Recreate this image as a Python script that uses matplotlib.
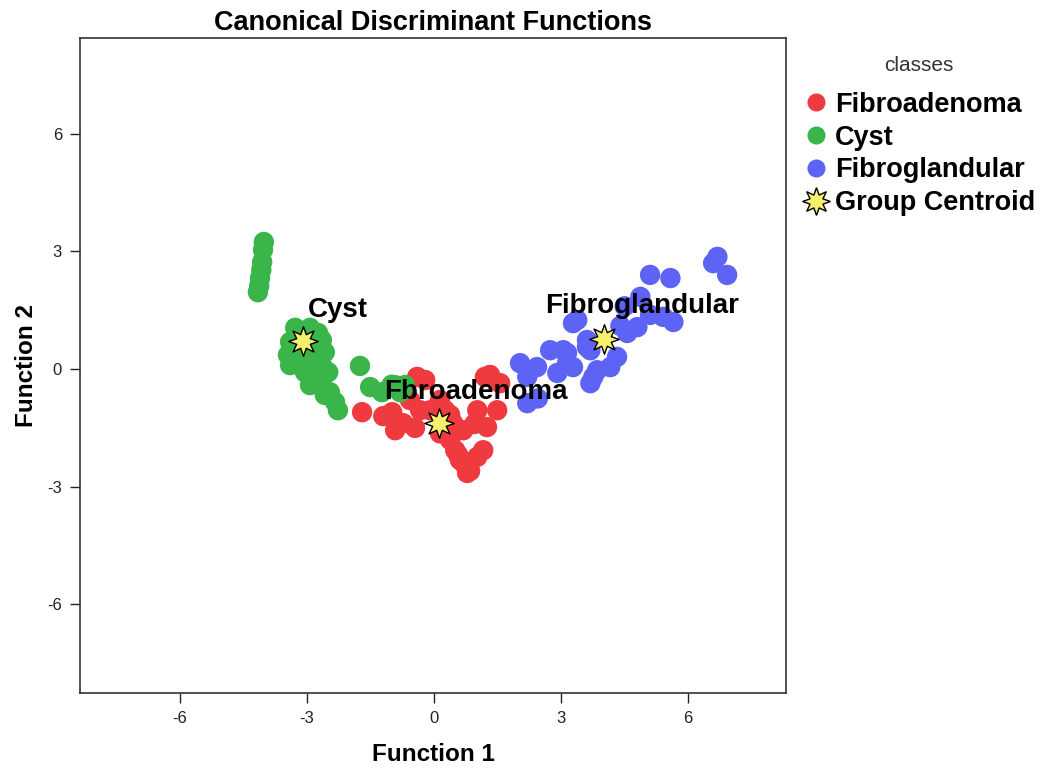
import matplotlib
matplotlib.use("Agg")
from matplotlib import pyplot as plt
from matplotlib.lines import Line2D

plt.rcParams['font.family'] = ['Liberation Sans', 'DejaVu Sans']
plt.rcParams['axes.unicode_minus'] = False

# discriminant scores per class (function 1, function 2)
fibroadenoma_x = [-1.70, -0.99, -0.92, -0.40, -0.33, -0.73, 0.14, -0.21, -0.57, -0.09, 0.14,
                  0.26, 0.38, 0.45, 0.50, 0.61, 0.69, 0.73, 0.78, 0.85, 0.57, 1.02, 1.49,
                  1.25, 1.16, 1.02, 1.32, 1.56, 1.20, 0.38, -1.20, -0.45, 0.95]
fibroadenoma_y = [-1.10, -1.10, -1.56, -0.20, -1.05, -1.38, -1.64, -0.28, -0.79, -1.05, -0.79,
                  -1.05, -1.81, -1.38, -2.07, -2.32, -1.56, -2.45, -2.65, -2.60, -2.19, -1.05, -1.05,
                  -1.48, -2.07, -2.24, -0.15, -0.36, -0.20, -1.17, -1.20, -1.50, -1.40]

cyst_x = [-4.02, -4.04, -4.06, -4.08, -4.11, -4.13, -4.16,
          -3.28, -2.93, -3.40, -3.17, -2.81, -2.65, -2.58, -3.45, -3.17, -2.88, -2.65, -3.40,
          -3.05, -2.74, -2.50, -2.93, -2.65, -2.46, -2.34, -2.27, -2.58, -3.05, -2.74,
          -1.75, -1.51, -1.23, -0.92, -0.69, -0.80, -1.00]
cyst_y = [3.24, 3.04, 2.73, 2.53, 2.32, 2.12, 1.96,
          1.05, 1.05, 0.69, 0.61, 0.61, 0.74, 0.43, 0.36, 0.28, 0.23, 0.10, 0.10,
          -0.08, -0.15, -0.08, -0.41, -0.41, -0.59, -0.84, -1.05, -0.66, 0.92, 0.92,
          0.08, -0.46, -0.59, -0.41, -0.41, -0.59, -0.40]

fibroglandular_x = [3.28, 2.03, 2.20, 2.43, 2.74, 3.14, 3.28, 2.91, 3.69, 3.61, 3.69, 3.85,
                    2.20, 2.45, 6.69, 6.59, 6.92, 5.10, 5.58, 4.87, 5.65, 5.41, 5.10, 4.80,
                    4.56, 3.38, 3.61, 4.32, 4.16, 3.76, 3.05, 3.14, 4.40, 4.50]
fibroglandular_y = [1.17, 0.15, -0.20, 0.05, 0.48, 0.41, 0.05, -0.10, 0.48, 0.74, -0.36, -0.03,
                    -0.87, -0.75, 2.86, 2.70, 2.40, 2.40, 2.32, 1.84, 1.20, 1.33, 1.38, 1.07,
                    0.92, 1.25, 0.56, 0.31, 0.05, -0.20, 0.48, 0.15, 1.10, 1.60]

class_names = ['Fibroadenoma', 'Cyst', 'Fibroglandular']
class_colors = ['#ef3a40', '#3ab54a', '#5c63f5']
centroid_x = [0.12, -3.09, 4.02]
centroid_y = [-1.38, 0.71, 0.77]
centroid_labels = ['Fbroadenoma', 'Cyst', 'Fibroglandular']
label_x = [0.99, -2.27, 4.91]
label_y = [-0.59, 1.51, 1.61]

star = (8, 1, 0)

fig = plt.figure(figsize=(10.49, 7.70), dpi=100)
ax = fig.add_axes([0.0763, 0.10, 0.673, 0.8506])

groups = [(fibroadenoma_x, fibroadenoma_y), (cyst_x, cyst_y), (fibroglandular_x, fibroglandular_y)]
for (gx, gy), col in zip(groups, class_colors):
    ax.scatter(gx, gy, s=215, color=col, edgecolors='none', zorder=2)

ax.scatter(centroid_x, centroid_y, s=450, marker=star, color='#f6f06c',
           edgecolors='black', linewidths=1.0, zorder=4)

for lx, ly, txt in zip(label_x, label_y, centroid_labels):
    ax.text(lx, ly, txt, ha='center', va='center', fontsize=20, fontweight='bold',
            color='black', zorder=5)

ax.set_xlim(-8.36, 8.31)
ax.set_ylim(-8.26, 8.44)
ax.set_xticks([-6, -3, 0, 3, 6])
ax.set_yticks([-6, -3, 0, 3, 6])
ax.tick_params(labelsize=12, colors='#222222', length=7, width=1, pad=6)
for sp in ax.spines.values():
    sp.set_linewidth(1.2)
    sp.set_color('#333333')

ax.set_title('Canonical Discriminant Functions', fontsize=19.5, fontweight='bold', pad=6)
ax.set_xlabel('Function 1', fontsize=17.5, fontweight='bold', labelpad=12)
ax.set_ylabel('Function 2', fontsize=17.5, fontweight='bold', labelpad=7)

handles = [Line2D([], [], marker='o', linestyle='none', markersize=13,
                  markerfacecolor=c, markeredgecolor='none') for c in class_colors]
handles.append(Line2D([], [], marker=star, linestyle='none', markersize=20,
                      markerfacecolor='#f6f06c', markeredgecolor='black', markeredgewidth=1))
leg = fig.legend(handles, class_names + ['Group Centroid'], title='classes',
                 loc='upper left', bbox_to_anchor=(0.755, 0.941), frameon=False,
                 prop={'size': 19.5, 'weight': 'bold'}, handlelength=1.0,
                 handletextpad=0.2, labelspacing=0.25, borderaxespad=0)
leg.get_title().set_fontsize(15)
leg.get_title().set_color('#333333')
leg._legend_box.sep = 12

fig.savefig('out.png', dpi=100)
